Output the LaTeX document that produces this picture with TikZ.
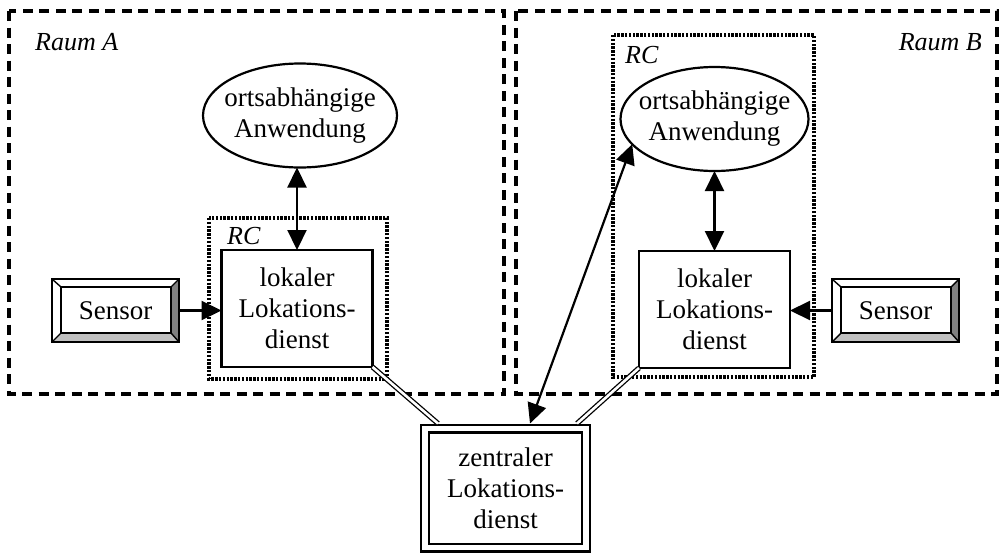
\documentclass[tikz,border=0pt]{standalone}
\usepackage{fontspec}
\setmainfont{Liberation Serif}
\usetikzlibrary{arrows.meta,calc,shapes.geometric}

\definecolor{sensordark}{RGB}{128,128,128}
\definecolor{sensorlight}{RGB}{192,192,192}

% bevelled frame around a sensor node
\newcommand\sensorbevel[1]{%
  \coordinate (#1-i1) at ($(#1.north west)+(9,8)$);
  \coordinate (#1-i2) at ($(#1.north east)+(-8,8)$);
  \coordinate (#1-i3) at ($(#1.south east)+(-8,-9)$);
  \coordinate (#1-i4) at ($(#1.south west)+(9,-9)$);
  \fill[sensordark] (#1.north east) -- (#1.south east) -- (#1-i3) -- (#1-i2) -- cycle;
  \fill[sensorlight] (#1.south east) -- (#1.south west) -- (#1-i4) -- (#1-i3) -- cycle;
  \draw[thinline] (#1.north west) rectangle (#1.south east);
  \draw[thinline] (#1-i1) rectangle (#1-i3);
  \draw[line width=1.4pt] (#1.north west) -- (#1-i1) (#1.north east) -- (#1-i2)
    (#1.south east) -- (#1-i3) (#1.south west) -- (#1-i4);
}

\begin{document}
\begin{tikzpicture}[x=1pt,y=-1pt,
  font=\fontsize{27}{31}\selectfont,
  thinline/.style={line width=2.2pt},
  room/.style={draw, line width=3.2pt, dash pattern=on 10pt off 6.5pt},
  rcbox/.style={draw, line width=3.2pt, dash pattern=on 2.4pt off 1.4pt},
  lbl/.style={font=\fontsize{26}{30}\selectfont\itshape, inner sep=0pt},
  service/.style={draw, thinline, minimum width=151pt, minimum height=117pt,
    align=center, inner sep=0pt, outer sep=0pt},
  app/.style={draw, ellipse, thinline, minimum height=104pt,
    inner xsep=-20pt, inner ysep=0pt, align=center, outer sep=0pt},
  sensorbox/.style={minimum width=127pt, minimum height=63pt, inner sep=0pt, outer sep=0pt},
  link/.style={thinline, {Triangle[length=20pt,width=19pt]}-{Triangle[length=20pt,width=19pt]}},
  feed/.style={thinline, -{Triangle[length=20pt,width=19pt]}},
  wire/.style={double, line width=1.3pt, double distance=2.6pt},
]
\useasboundingbox (0,0) rectangle (1003,552);

% rooms
\draw[room] (9,11) rectangle (504,394);
\draw[room] (516,11) rectangle (997,394);
\node[lbl, anchor=base west] (raumA) at (35,50) {Raum A};
\node[lbl, anchor=base east] (raumB) at (982,50) {Raum B};

% room controllers
\draw[rcbox] (209,218) rectangle (387,379);
\draw[rcbox] (613,35) rectangle (814,377);
\node[lbl, anchor=base west] (rcA) at (227,244) {RC};
\node[lbl, anchor=base west] (rcB) at (625,63) {RC};

% services and applications
\node[service] (lokA) at (297,308.5) {lokaler\\Lokations-\\dienst};
\node[service] (lokB) at (714.5,309.5) {lokaler\\Lokations-\\dienst};
\node[app, minimum width=194pt] (appA) at (300,115.5) {ortsabh\"angige\\Anwendung};
\node[app, minimum width=188pt] (appB) at (714.5,119) {ortsabh\"angige\\Anwendung};

% sensors
\node[sensorbox] (sensorA) at (115.5,310.5) {};
\sensorbevel{sensorA}
\node at (sensorA) {Sensor};
\node[sensorbox] (sensorB) at (895.5,310.5) {};
\sensorbevel{sensorB}
\node at (sensorB) {Sensor};

% central service
\node[draw, double, thinline, double distance=5.6pt, minimum width=161pt,
  minimum height=119pt, outer sep=5pt, inner sep=0pt, align=center]
  (zentral) at (505.5,488) {zentraler\\Lokations-\\dienst};

% connections
\draw[wire] (lokA.south east) -- ($(zentral.north west)+(18,0)$);
\draw[wire] (lokB.south west) -- ($(zentral.north east)+(-14,0)$);
\draw[link] (lokA.north) -- (lokA.north |- appA.south);
\draw[link] (lokB.north) -- (lokB.north |- appB.south);
\draw[feed] (sensorA.east) -- (sensorA.east -| lokA.west);
\draw[feed] (sensorB.west) -- (sensorB.west -| lokB.east);
\draw[link] ($(zentral.north west)+(110,0)$) -- (appB.197);
\end{tikzpicture}
\end{document}
